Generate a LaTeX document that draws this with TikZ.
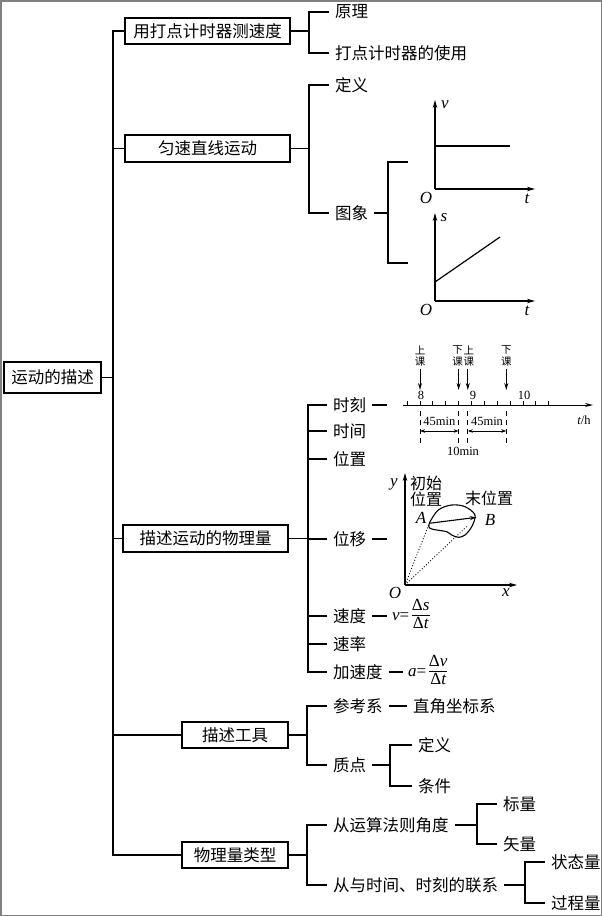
\documentclass[tikz,border=0pt]{standalone}
\usepackage{fontspec}
\setmainfont{Liberation Serif}
\newfontfamily\cjk{Noto Sans CJK SC}
\usetikzlibrary{arrows.meta}
\newcommand\mybrk[3]{\draw[conn] (#2.west) -- (#2.west -| #1) -- (#3.west -| #1) -- (#3.west);}
\newcommand\mytick[2]{\draw[conn] (#2.west) -- (#2.west -| #1);}
\newcommand\myfrac[2]{\renewcommand\arraystretch{0.8}\begin{tabular}{@{}c@{}}#1\\[1pt]\hline\rule{0pt}{13pt}#2\end{tabular}}
\begin{document}
\begin{tikzpicture}[x=1pt,y=-1pt,
  box/.style={draw, line width=1.3pt, inner sep=0pt, font=\cjk\fontsize{16.5}{18}\selectfont},
  leaf/.style={inner sep=1pt, outer sep=5pt, anchor=west, font=\cjk\fontsize{16.5}{18}\selectfont},
  formula/.style={inner sep=1pt, outer sep=4pt, anchor=west, font=\rmfamily\fontsize{17}{18}\selectfont},
  conn/.style={line width=1.3pt},
  small/.style={font=\cjk\fontsize{10.5}{11}\selectfont, inner sep=0pt},
  num/.style={font=\rmfamily\fontsize{12.5}{13}\selectfont, inner sep=0pt},
  lab/.style={font=\rmfamily\itshape\fontsize{17}{17}\selectfont, inner sep=0pt},
  clab/.style={font=\cjk\fontsize{16}{16}\selectfont, inner sep=0pt},
  ax/.style={line width=1.2pt, -{Stealth[length=8pt,width=4.5pt]}},
  thin/.style={line width=0.9pt}]
\useasboundingbox (0,0) rectangle (602,916);
\draw[gray, line width=1.5pt] (0.75,0.75) rectangle (601.25,915.25);

% main boxes
\node[box, minimum width=97pt, minimum height=31pt] (root) at (52.5,377.5) {运动的描述};
\node[box, minimum width=165pt, minimum height=26pt] (b1) at (207.5,31) {用打点计时器测速度};
\node[box, minimum width=165pt, minimum height=27pt] (b2) at (207.5,148.5) {匀速直线运动};
\node[box, minimum width=165pt, minimum height=27pt] (b3) at (205.5,538.5) {描述运动的物理量};
\node[box, minimum width=106pt, minimum height=26pt] (b4) at (235,735) {描述工具};
\node[box, minimum width=106pt, minimum height=26pt] (b5) at (235,855) {物理量类型};

% trunk
\coordinate (T) at (113,0);
\draw[conn] (b1.west) -- (b1.west -| T) -- (b5.west -| T) -- (b5.west);
\foreach \n in {b2,b3,b4} {\draw[conn] (\n.west) -- (\n.west -| T);}
\draw[conn] (root.east) -- (root.east -| T);

% branch 1
\coordinate (X1) at (309,0);
\node[leaf] (yl) at (329,12) {原理};
\node[leaf] (sy) at (329,53) {打点计时器的使用};
\draw[conn] (b1.east) -- (b1.east -| X1);
\mybrk{X1}{yl}{sy}

% branch 2
\node[leaf] (dy) at (329,85) {定义};
\node[leaf] (tx) at (329,213) {图象};
\draw[conn] (b2.east) -- (b2.east -| X1);
\mybrk{X1}{dy}{tx}
\coordinate (X2) at (388,0);
\coordinate (g1) at (408,162);
\coordinate (g2) at (408,263);
\draw[conn] (tx.east) -- (tx.east -| X2);
\draw[conn] (g1) -- (g1 -| X2) -- (g2 -| X2) -- (g2);

% graph 1
\coordinate (O1) at (435,189);
\draw[ax] (O1) -- (435,100);
\draw[ax] (O1) -- (535,189);
\draw[line width=1.2pt] (435,146) -- (510,146);
\node[lab] (v1) at (445,105) {v};
\node[lab] (o1) at (426,198) {O};
\node[lab] (t1) at (527,199) {t};
% graph 2
\coordinate (O2g) at (435,301);
\draw[ax] (O2g) -- (435,213);
\draw[ax] (O2g) -- (535,301);
\draw[line width=1.2pt] (435,282) -- (500,237);
\node[lab] (s2) at (444,218) {s};
\node[lab] (o2) at (426,310) {O};
\node[lab] (t2) at (527,311) {t};

% branch 3
\coordinate (X3) at (308,0);
\node[leaf] (sk) at (327,405) {时刻};
\node[leaf] (sj) at (327,431) {时间};
\node[leaf] (wz) at (327,459) {位置};
\node[leaf] (wy) at (327,539) {位移};
\node[leaf] (sd) at (327,616) {速度};
\node[leaf] (sl) at (327,644) {速率};
\node[leaf] (jsd) at (327,672) {加速度};
\draw[conn] (b3.east) -- (b3.east -| X3);
\mybrk{X3}{sk}{jsd}
\foreach \n in {sj,wz,wy,sd,sl} {\mytick{X3}{\n}}
\coordinate (ske) at (387,405);
\coordinate (wye) at (387,539);
\draw[conn] (sk.east) -- (ske);
\draw[conn] (wy.east) -- (wye);
\node[formula] (fv) at (387,616) {\itshape v\upshape=\,\myfrac{Δ\itshape s}{Δ\itshape t}};
\node[formula] (fa) at (403,672) {\itshape a\upshape=\,\myfrac{Δ\itshape v}{Δ\itshape t}};
\draw[conn] (sd.east) -- (fv.west);
\draw[conn] (jsd.east) -- (fa.west);

% timeline
\draw[thin, -{Stealth[length=8pt,width=4pt]}] (403,405) -- (593,405);
\foreach \k in {-1,...,10} {\draw[thin] (420+\k*12.875,405) -- (420+\k*12.875,401);}
\node[num] (n8) at (421,395) {8};
\node[num] (n9) at (473,395) {9};
\node[num] (n10) at (524,395) {10};
\node[num] (th) at (584,420) {\itshape t\upshape/h};
\foreach \xx/\tx/\a/\b/\nm in {420/420/上/课/p1, 458.6/457.6/下/课/p2, 467.8/468.8/上/课/p3, 506.3/506.3/下/课/p4} {
  \node[small] (\nm a) at (\tx,350) {\a};
  \node[small] (\nm b) at (\tx,362) {\b};
  \draw[line width=1pt, -{Stealth[length=7pt,width=4pt]}] (\xx,369) -- (\xx,390);
  \draw[line width=0.8pt, dash pattern=on 5pt off 4pt] (\xx,411) -- (\xx,444);
}
\node[num] (m1) at (439.3,421) {45min};
\node[num] (m2) at (487,421) {45min};
\node[num] (m3) at (463,451) {10min};
\draw[line width=0.8pt, {Stealth[length=5pt,width=3.5pt]}-{Stealth[length=5pt,width=3.5pt]}] (420,431) -- (458.6,431);
\draw[line width=0.8pt, {Stealth[length=5pt,width=3.5pt]}-{Stealth[length=5pt,width=3.5pt]}] (467.8,431) -- (506.3,431);

% displacement diagram
\coordinate (O3) at (405,585);
\coordinate (PA) at (429.3,523.3);
\coordinate (PB) at (476.7,517.3);
\draw[ax] (O3) -- (405,473);
\draw[ax] (O3) -- (517,585);
\draw[line width=1.1pt] plot[smooth cycle, tension=0.55] coordinates {(429.3,523.3) (438.3,510) (451.7,505) (465,506.7) (475,515) (471.7,526.7) (465,535) (458.3,537.3) (451.7,535) (446.7,531.7) (436.7,530) (430,528.3)};
\draw[line width=1.1pt, -{Stealth[length=7pt,width=4pt]}] (PA) -- (PB);
\draw[dotted, line width=0.9pt] (O3) -- (PA);
\draw[dotted, line width=0.9pt] (O3) -- (468,525.3);
\node[lab] (ly) at (394,484) {y};
\node[clab] (cs1) at (426,483) {初始};
\node[clab] (cs2) at (426,499) {位置};
\node[clab] (mw) at (489,498) {末位置};
\node[lab] (la) at (421,518) {A};
\node[lab] (lb) at (490,520) {B};
\node[lab] (lo) at (395,593) {O};
\node[lab] (lx) at (506,593) {x};

% branch 4
\coordinate (X4) at (307,0);
\node[leaf] (ckx) at (327,706) {参考系};
\node[leaf] (zd) at (327,765) {质点};
\node[leaf] (zj) at (407,706) {直角坐标系};
\draw[conn] (b4.east) -- (b4.east -| X4);
\mybrk{X4}{ckx}{zd}
\draw[conn] (ckx.east) -- (zj.west);
\coordinate (X5) at (390,0);
\node[leaf] (dy2) at (412,745) {定义};
\node[leaf] (tj) at (412,786) {条件};
\draw[conn] (zd.east) -- (zd.east -| X5);
\mybrk{X5}{dy2}{tj}

% branch 5
\node[leaf] (ys) at (327,825) {从运算法则角度};
\node[leaf] (lx2) at (327,885) {从与时间、时刻的联系};
\draw[conn] (b5.east) -- (b5.east -| X4);
\mybrk{X4}{ys}{lx2}
\coordinate (X6) at (477,0);
\node[leaf] (bl) at (497,804) {标量};
\node[leaf] (sl2) at (497,844) {矢量};
\draw[conn] (ys.east) -- (ys.east -| X6);
\mybrk{X6}{bl}{sl2}
\coordinate (X7) at (525,0);
\node[leaf] (ztl) at (545,862) {状态量};
\node[leaf] (gcl) at (545,903) {过程量};
\draw[conn] (lx2.east) -- (lx2.east -| X7);
\mybrk{X7}{ztl}{gcl}
\end{tikzpicture}
\end{document}
